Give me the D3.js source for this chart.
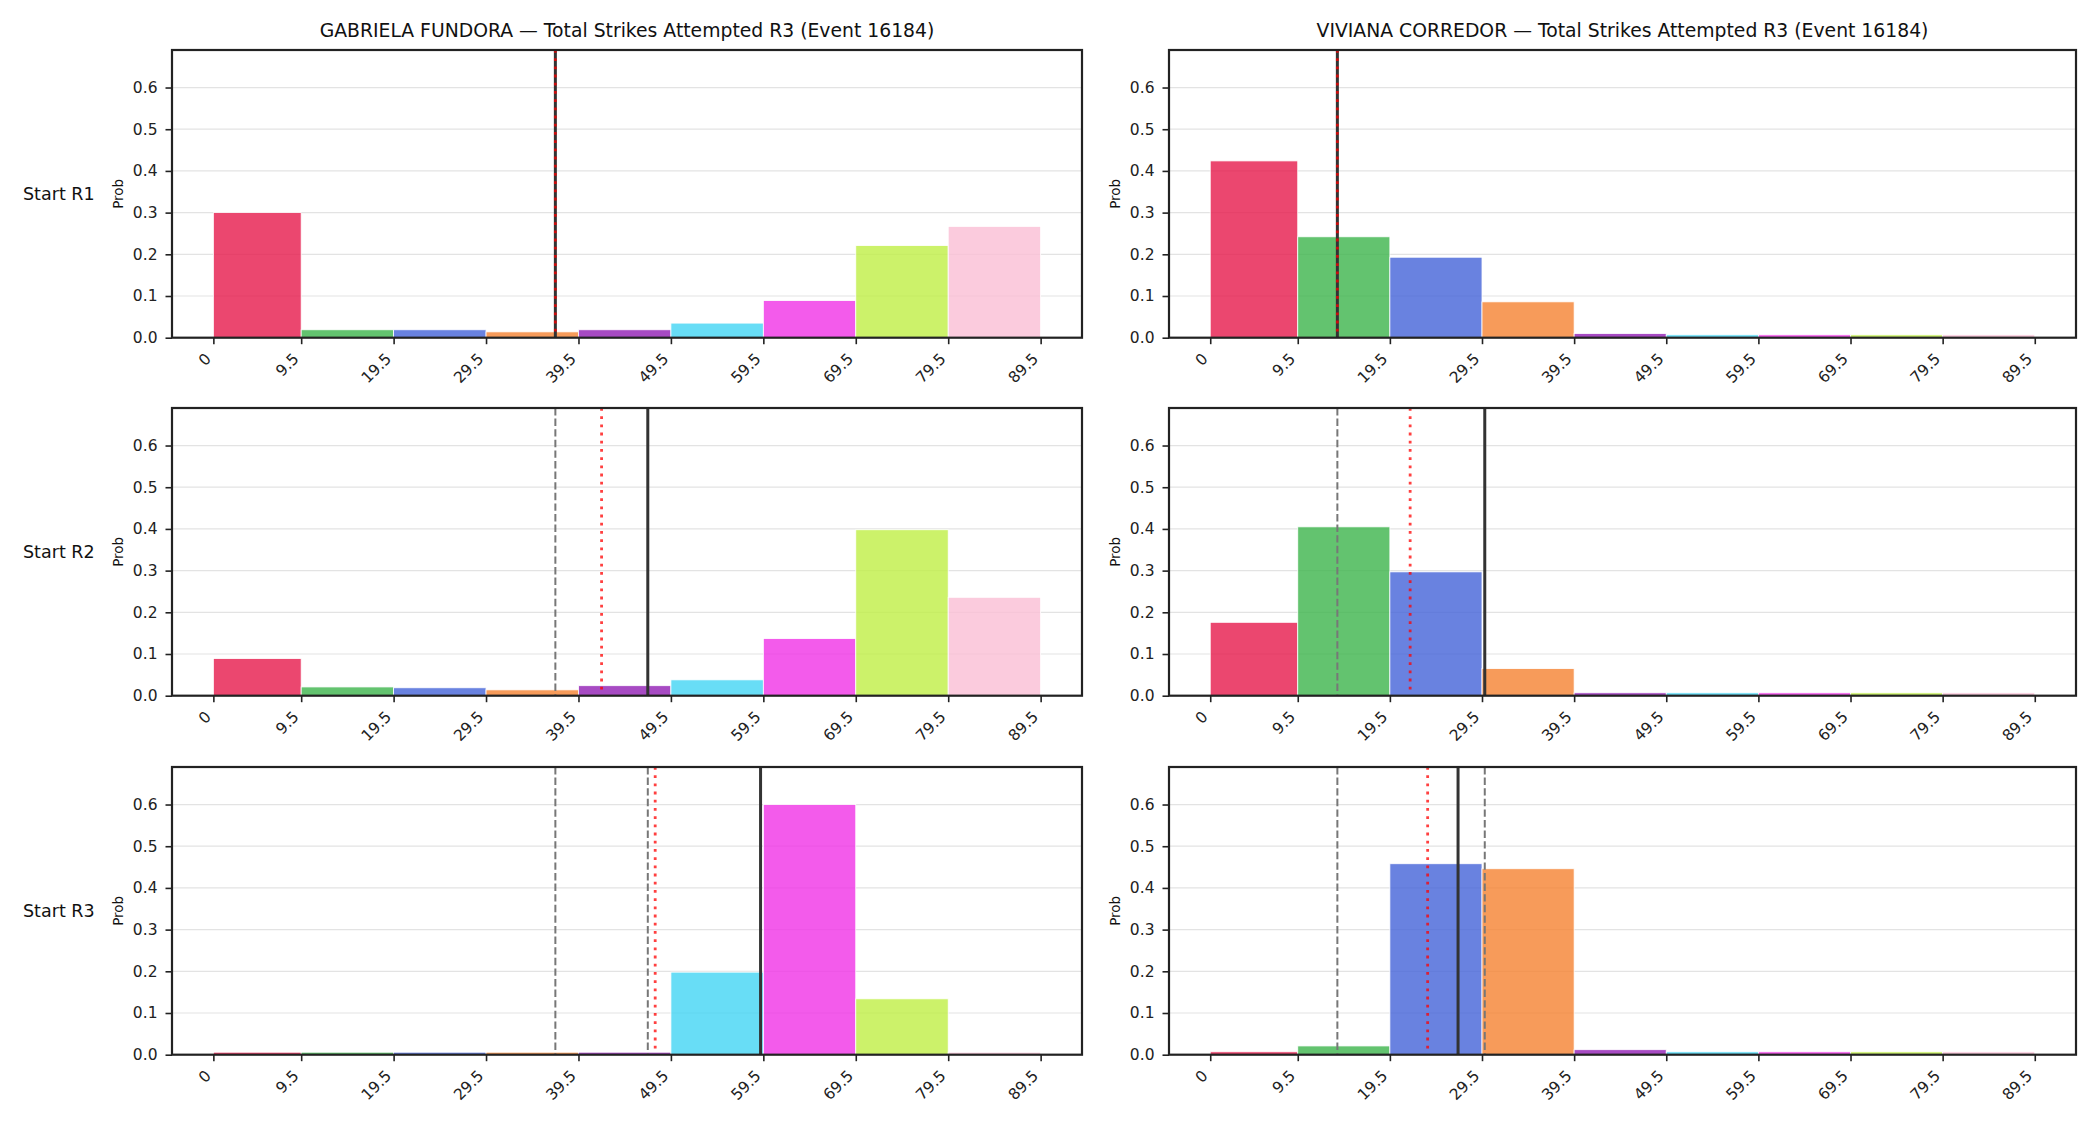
<!DOCTYPE html>
<html>
<head>
<meta charset="utf-8">
<script src="https://cdn.jsdelivr.net/npm/d3@7"></script>
<style>
  body { margin: 0; background: #fff; }
  svg { display: block; font-family: "DejaVu Sans", sans-serif; }
</style>
</head>
<body>
<svg id="chart" width="2100" height="1125"></svg>
<script>
// bin edges (also the tick labels)
const binEdges = [0, 9.5, 19.5, 29.5, 39.5, 49.5, 59.5, 69.5, 79.5, 89.5];
const tickLabels = ["0", "9.5", "19.5", "29.5", "39.5", "49.5", "59.5", "69.5", "79.5", "89.5"];
const yTicks = [0, 0.1, 0.2, 0.3, 0.4, 0.5, 0.6];
const rowLabels = ["Start R1", "Start R2", "Start R3"];
const fighters = ["GABRIELA FUNDORA", "VIVIANA CORREDOR"];
const binColors = ["#e6194b", "#3cb44b", "#4363d8", "#f58231", "#911eb4",
                   "#42d4f4", "#f032e6", "#bfef45", "#fabed4"];

// probabilities per bin, one row per start round
const fundoraProbs = [
  [0.300, 0.019, 0.019, 0.014, 0.019, 0.035, 0.089, 0.221, 0.267],
  [0.089, 0.021, 0.019, 0.014, 0.024, 0.038, 0.137, 0.398, 0.236],
  [0.006, 0.006, 0.006, 0.006, 0.006, 0.198, 0.600, 0.134, 0.006]
];
const corredorProbs = [
  [0.424, 0.242, 0.193, 0.086, 0.010, 0.007, 0.007, 0.007, 0.007],
  [0.176, 0.405, 0.297, 0.065, 0.007, 0.007, 0.007, 0.007, 0.007],
  [0.007, 0.021, 0.458, 0.446, 0.012, 0.007, 0.007, 0.007, 0.007]
];
// solid black marker and red dotted marker per row
const fundoraSolid = [37.0, 47.0, 59.2];
const fundoraDotted = [37.0, 42.0, 47.8];
const corredorSolid = [13.8, 29.8, 26.9];
const corredorDotted = [13.8, 21.7, 23.6];

const panels = [
  {name: fighters[0], probs: fundoraProbs, solid: fundoraSolid, dotted: fundoraDotted, x0: 172, x1: 1082},
  {name: fighters[1], probs: corredorProbs, solid: corredorSolid, dotted: corredorDotted, x0: 1169, x1: 2076}
];
const rowTops = [50, 408, 767];
const axH = 287.7;

const svg = d3.select("#chart");

panels.forEach((p, ci) => {
  const x = d3.scaleLinear().domain([-4.475, 93.975]).range([p.x0, p.x1]);

  rowTops.forEach((top, ri) => {
    const y = d3.scaleLinear().domain([0, 0.69]).range([top + axH, top]);
    const g = svg.append("g");

    // grid
    g.selectAll("line.grid").data(yTicks).enter().append("line")
      .attr("x1", p.x0).attr("x2", p.x1)
      .attr("y1", d => y(d)).attr("y2", d => y(d))
      .attr("stroke", "#e3e3e3").attr("stroke-width", 1.2);

    // bars
    const bars = p.probs[ri].map((v, i) => ({v: v, a: binEdges[i], b: binEdges[i + 1], c: binColors[i]}));
    g.selectAll("rect.bar").data(bars).enter().append("rect")
      .attr("x", d => x(d.a))
      .attr("width", d => x(d.b) - x(d.a))
      .attr("y", d => y(d.v))
      .attr("height", d => y(0) - y(d.v))
      .attr("fill", d => d.c).attr("fill-opacity", 0.8)
      .attr("stroke", "#fff").attr("stroke-width", 0.8);

    // earlier rounds' solid markers, dashed grey
    g.selectAll("line.prev").data(p.solid.slice(0, ri)).enter().append("line")
      .attr("x1", d => x(d)).attr("x2", d => x(d))
      .attr("y1", top).attr("y2", top + axH)
      .attr("stroke", "#777").attr("stroke-width", 2)
      .attr("stroke-dasharray", "7.4,3.2");

    g.append("line")
      .attr("x1", x(p.solid[ri])).attr("x2", x(p.solid[ri]))
      .attr("y1", top).attr("y2", top + axH)
      .attr("stroke", "#333").attr("stroke-width", 3);

    g.append("line")
      .attr("x1", x(p.dotted[ri])).attr("x2", x(p.dotted[ri]))
      .attr("y1", top).attr("y2", top + axH)
      .attr("stroke", "red").attr("stroke-opacity", 0.75).attr("stroke-width", 2.8)
      .attr("stroke-dasharray", "2.8,5.4");

    // axes
    const ya = g.append("g").attr("transform", `translate(${p.x0},0)`)
      .call(d3.axisLeft(y).tickValues(yTicks).tickFormat(d3.format(".1f")).tickSize(6.5).tickPadding(8));
    ya.select(".domain").remove();
    ya.selectAll("text").attr("font-size", 15.5).attr("fill", "#222").attr("font-family", "DejaVu Sans");
    ya.selectAll("line").attr("stroke", "#222").attr("stroke-width", 1.6);

    const xa = g.append("g").attr("transform", `translate(0,${top + axH})`)
      .call(d3.axisBottom(x).tickValues(binEdges).tickFormat((d, i) => tickLabels[i]).tickSize(6.5));
    xa.select(".domain").remove();
    xa.selectAll("line").attr("stroke", "#222").attr("stroke-width", 1.6);
    xa.selectAll("text")
      .attr("font-size", 15.5).attr("fill", "#222").attr("font-family", "DejaVu Sans")
      .attr("text-anchor", "end").attr("x", 0).attr("y", 0).attr("dy", null)
      .attr("transform", "translate(-2,22) rotate(-45)");

    // frame
    g.append("rect")
      .attr("x", p.x0).attr("y", top).attr("width", p.x1 - p.x0).attr("height", axH)
      .attr("fill", "none").attr("stroke", "#222").attr("stroke-width", 2.2);

    g.append("text")
      .attr("transform", `translate(${p.x0 - 54},${top + axH / 2}) rotate(-90)`)
      .attr("text-anchor", "middle").attr("dy", "0.35em")
      .attr("font-size", 13.5).attr("fill", "#111").text("Prob");

    if (ri === 0) {
      g.append("text")
        .attr("x", (p.x0 + p.x1) / 2).attr("y", 36.5)
        .attr("text-anchor", "middle").attr("font-size", 18.8).attr("fill", "#111")
        .text(`${p.name} — Total Strikes Attempted R3 (Event 16184)`);
    }
    if (ci === 0) {
      g.append("text")
        .attr("x", 23).attr("y", top + axH / 2).attr("dy", "0.35em")
        .attr("font-size", 17.5).attr("fill", "#111").text(rowLabels[ri]);
    }
  });
});
</script>
</body>
</html>
